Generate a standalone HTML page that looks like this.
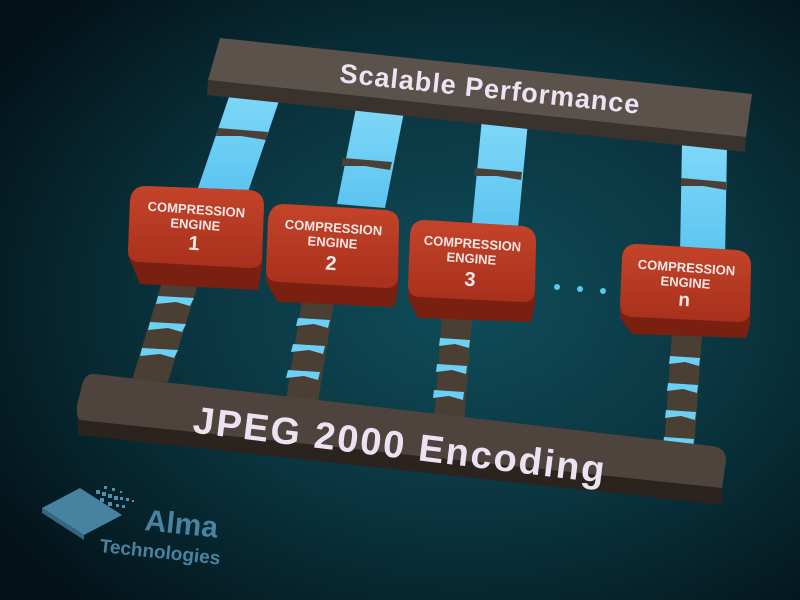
<!DOCTYPE html>
<html><head><style>
html,body{margin:0;padding:0;width:800px;height:600px;overflow:hidden;background:#04161c}
svg{display:block}
text{font-family:"Liberation Sans",sans-serif;font-weight:bold}
</style></head><body>
<svg width="800" height="600" viewBox="0 0 800 600" xmlns="http://www.w3.org/2000/svg">
<defs>
<radialGradient id="bg" cx="0.58" cy="0.5" r="0.7">
<stop offset="0" stop-color="#0f4d5a"/>
<stop offset="0.5" stop-color="#0a3540"/>
<stop offset="1" stop-color="#031218"/>
</radialGradient>
<linearGradient id="cy" x1="0" y1="0" x2="0" y2="1">
<stop offset="0" stop-color="#7fd8f8"/><stop offset="1" stop-color="#5cc4f0"/>
</linearGradient>
<linearGradient id="red" x1="0" y1="0" x2="0" y2="1">
<stop offset="0" stop-color="#c4442a"/><stop offset="1" stop-color="#a8301c"/>
</linearGradient>
<filter id="glow"><feGaussianBlur stdDeviation="3"/></filter>
</defs>
<rect width="800" height="600" fill="url(#bg)"/>

<!-- upper cyan pillars -->
<g fill="url(#cy)">
<polygon points="232,88 282,92 248,192 198,188"/>
<polygon points="357,103 405,107 385,208 337,204"/>
<polygon points="482,118 528,122 518,228 472,224"/>
<polygon points="682,143 727,147 725,258 680,254"/>
</g>
<g fill="#4a4038">
<polygon points="218,128 268,132 266,140 241,136 216,136"/>
<polygon points="343,158 392,162 390,170 365,166 341,166"/>
<polygon points="475,168 522,172 521,180 497,176 474,176"/>
<polygon points="681,178 726,182 726,190 703,186 681,186"/>
</g>

<!-- top bar -->
<polygon points="208,80 746,137 745,152 207,95" fill="#3a322d"/>
<polygon points="220,38 752,94 746,137 208,80" fill="#5c524c"/>
<text x="490" y="98" font-size="27" fill="#ece4f4" text-anchor="middle" transform="rotate(6 490 90)" letter-spacing="1">Scalable Performance</text>

<!-- lower dark pillars -->
<g fill="#4a3f33">
<polygon points="162,282 198,284 168,382 132,380"/>
<polygon points="302,300 334,302 318,402 286,400"/>
<polygon points="442,318 472,320 464,422 434,420"/>
<polygon points="672,333 702,335 694,450 664,448"/>
</g>
<g fill="#6ad0f6">
<polygon points="158,296 194,298 190,306 176,302 156,304"/>
<polygon points="150,322 186,324 182,332 168,328 148,330"/>
<polygon points="142,348 178,350 174,358 160,354 140,356"/>
<polygon points="298,318 330,320 328,328 314,324 296,326"/>
<polygon points="293,344 325,346 323,354 309,350 291,352"/>
<polygon points="288,370 320,372 318,380 304,376 286,378"/>
<polygon points="440,338 470,340 469,348 455,344 439,346"/>
<polygon points="437,364 467,366 466,374 452,370 436,372"/>
<polygon points="434,390 464,392 463,400 449,396 433,398"/>
<polygon points="670,356 700,358 699,366 685,362 669,364"/>
<polygon points="668,383 698,385 697,393 683,389 667,391"/>
<polygon points="666,410 696,412 695,420 681,416 665,418"/>
<polygon points="664,437 694,439 693,447 679,443 663,445"/>
</g>

<!-- boxes -->
<g>
<path d="M128,255 L130,200 Q132,186 146,186 L250,190 Q264,192 264,206 L262,268 L258,290 L140,284 Z" fill="#7a2010"/>
<path d="M130,200 Q132,186 146,186 L250,190 Q264,192 264,206 L262,258 Q262,268 250,268 L140,262 Q128,262 128,250 Z" fill="url(#red)"/>
<text font-size="13" fill="#f6e8e8" text-anchor="middle" transform="rotate(4 196 215)"><tspan x="196" y="214">COMPRESSION</tspan><tspan x="196" y="229">ENGINE</tspan><tspan x="196" y="250" font-size="20">1</tspan></text>

<path d="M268,220 Q270,204 284,204 L386,210 Q400,212 399,226 L398,290 L394,307 L278,302 L266,282 Z" fill="#7a2010"/>
<path d="M268,220 Q270,204 284,204 L386,210 Q400,212 399,226 L398,276 Q398,288 386,288 L280,282 Q266,282 266,270 Z" fill="url(#red)"/>
<text font-size="13" fill="#f6e8e8" text-anchor="middle" transform="rotate(4 333 235)"><tspan x="333" y="232">COMPRESSION</tspan><tspan x="333" y="247">ENGINE</tspan><tspan x="333" y="270" font-size="20">2</tspan></text>

<path d="M410,235 Q411,220 425,220 L522,226 Q536,228 536,242 L535,305 L531,322 L418,318 L408,298 Z" fill="#7a2010"/>
<path d="M410,235 Q411,220 425,220 L522,226 Q536,228 536,242 L535,290 Q535,302 523,302 L421,297 Q408,297 408,285 Z" fill="url(#red)"/>
<text font-size="13" fill="#f6e8e8" text-anchor="middle" transform="rotate(4 472 250)"><tspan x="472" y="248">COMPRESSION</tspan><tspan x="472" y="263">ENGINE</tspan><tspan x="472" y="286" font-size="20">3</tspan></text>

<path d="M622,258 Q623,244 637,244 L737,250 Q751,252 751,266 L750,325 L746,338 L632,334 L620,318 Z" fill="#7a2010"/>
<path d="M622,258 Q623,244 637,244 L737,250 Q751,252 751,266 L750,310 Q750,322 738,322 L634,317 Q620,317 620,305 Z" fill="url(#red)"/>
<text font-size="13" fill="#f6e8e8" text-anchor="middle" transform="rotate(4 686 275)"><tspan x="686" y="272">COMPRESSION</tspan><tspan x="686" y="287">ENGINE</tspan><tspan x="686" y="306" font-size="19">n</tspan></text>
</g>

<!-- dots -->
<g fill="#58c8ee">
<circle cx="557" cy="287" r="3"/><circle cx="580" cy="289" r="3"/><circle cx="603" cy="291" r="3"/>
</g>

<!-- bottom bar -->
<polygon points="78,418 722,488 722,505 78,435" fill="#2a231e"/>
<path d="M95,374 L712,446 Q726,448 726,460 L722,488 L80,420 Q76,418 77,405 L82,385 Q85,373 95,374 Z" fill="#4e443d"/>
<text x="400" y="458" font-size="38" fill="#ebe3f2" text-anchor="middle" transform="rotate(7 400 445)" letter-spacing="2">JPEG 2000 Encoding</text>

<!-- logo -->
<g fill="#4f8eaf" opacity="0.9">
<polygon points="42,508 80,488 122,515 84,535"/>
<polygon points="42,508 84,535 84,540 42,513" fill="#3a6f8c"/>
<g fill="#5b9cbc">
<rect x="96" y="490" width="4" height="4"/><rect x="102" y="492" width="4" height="4"/><rect x="108" y="494" width="4" height="4"/><rect x="114" y="496" width="4" height="4"/><rect x="120" y="497" width="3" height="3"/><rect x="126" y="498" width="3" height="3"/><rect x="132" y="500" width="2" height="2"/>
<rect x="100" y="498" width="4" height="4"/><rect x="108" y="502" width="4" height="4"/><rect x="116" y="504" width="3" height="3"/><rect x="122" y="505" width="3" height="3"/>
<rect x="104" y="486" width="3" height="3"/><rect x="112" y="488" width="3" height="3"/><rect x="120" y="491" width="2" height="2"/>
</g>
<text x="145" y="530" font-size="30" fill="#4f8eaf" transform="rotate(6 145 520)" font-family="Liberation Sans">Alma</text>
<text x="100" y="552" font-size="19" fill="#4f8eaf" transform="rotate(6 100 545)" font-family="Liberation Sans">Technologies</text>
</g>
</svg>
</body></html>
